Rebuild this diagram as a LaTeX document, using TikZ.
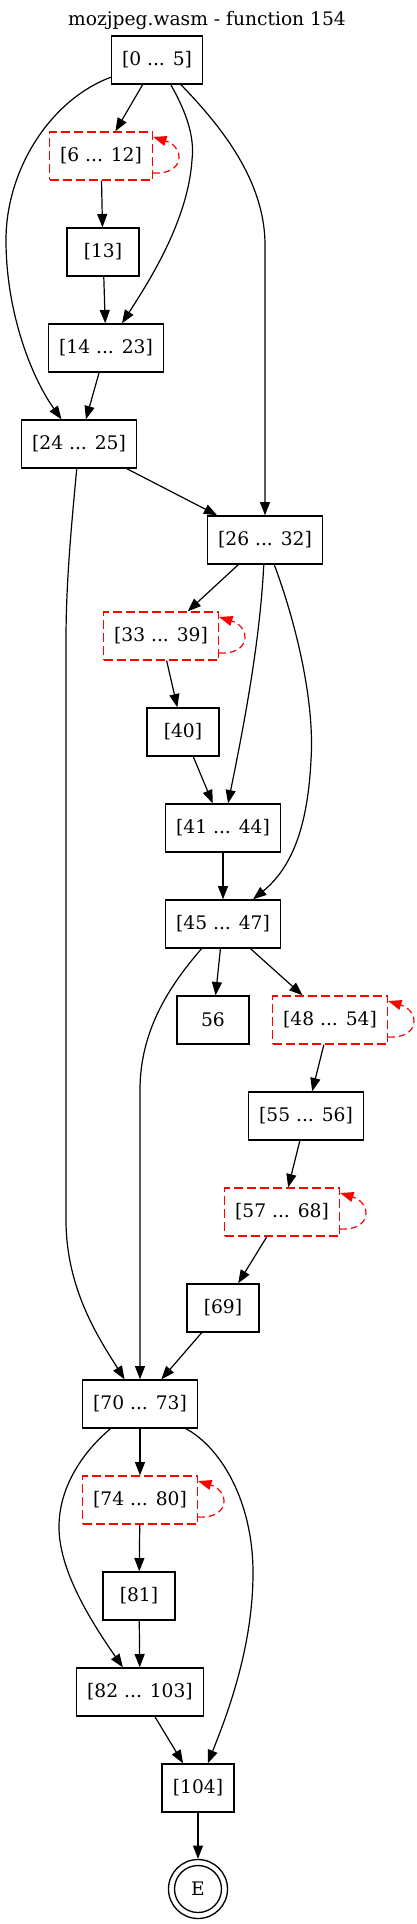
\documentclass[tikz,border=0pt]{standalone}
\usepackage{fontspec}
\setmainfont{DejaVu Serif}
\usetikzlibrary{arrows.meta,calc}
\begin{document}
\begin{tikzpicture}[x=0.75pt,y=-0.75pt,
  blk/.style={draw, line width=1pt, minimum height=36pt, inner sep=0pt, font=\fontsize{14pt}{16pt}\selectfont},
  lp/.style={draw=red, dash pattern=on 6.75pt off 3pt},
  wS/.style={minimum width=54pt},
  wM/.style={minimum width=86.25pt},
  wL/.style={minimum width=95.25pt},
  wA/.style={minimum width=68.25pt},
  wB/.style={minimum width=77.25pt},
  edge/.style={-{Triangle[length=10pt,width=7.5pt]}, line width=0.9pt},
  selfloop/.style={edge, red, dash pattern=on 5pt off 3pt},
  ttl/.style={font=\fontsize{14pt}{16pt}\selectfont, inner sep=0pt}]
\useasboundingbox (0,0) rectangle (417,1924);
\node[ttl] (title) at (207,20) {mozjpeg.wasm - function 154};
\node[blk,wA] (n0) at (157,60) {[0 ... 5]};
\node[blk,wB,lp] (n6) at (101,156) {[6 ... 12]};
\node[blk,wS] (n13) at (103,252) {[13]};
\node[blk,wM] (n14) at (106,348) {[14 ... 23]};
\node[blk,wM] (n24) at (79,444) {[24 ... 25]};
\node[blk,wM] (n26) at (265,540) {[26 ... 32]};
\node[blk,wM,lp] (n33) at (161,636) {[33 ... 39]};
\node[blk,wS] (n40) at (183,732) {[40]};
\node[blk,wM] (n41) at (223,828) {[41 ... 44]};
\node[blk,wM] (n45) at (223,924) {[45 ... 47]};
\node[blk,wS] (n56) at (213,1020) {56};
\node[blk,wM,lp] (n48) at (330,1020) {[48 ... 54]};
\node[blk,wM] (n55) at (306,1116) {[55 ... 56]};
\node[blk,wM,lp] (n57) at (282,1212) {[57 ... 68]};
\node[blk,wS] (n69) at (223,1308) {[69]};
\node[blk,wM] (n70) at (140,1404) {[70 ... 73]};
\node[blk,wM,lp] (n74) at (140,1500) {[74 ... 80]};
\node[blk,wS] (n81) at (139,1596) {[81]};
\node[blk,wL] (n82) at (140,1692) {[82 ... 103]};
\node[blk,wS] (n104) at (198,1788) {[104]};
\node[draw, circle, line width=1pt, minimum size=35.25pt, inner sep=0pt, font=\fontsize{14pt}{16pt}\selectfont] (E) at (198,1889) {E};
\node[draw, circle, line width=1pt, minimum size=44.25pt, inner sep=0pt] (Eo) at (198,1889) {};

% edges
\draw[edge] (n0) -- (n6);
\draw[edge] (n0) .. controls (50,100) and (6,170) .. (6,240) .. controls (6,310) and (30,375) .. (n24);
\draw[edge] (n0) .. controls (185,110) and (195,135) .. (192,160) .. controls (188,220) and (150,280) .. (n14);
\draw[edge] (n0) .. controls (220,125) and (265,180) .. (265,245) -- (n26);
\draw[edge] (n6) -- (n13);
\draw[edge] (n13) -- (n14);
\draw[edge] (n14) -- (n24);
\draw[edge] (n24) -- (n26);
\draw[edge] (n24) .. controls (72,520) and (66,580) .. (66,640) -- (66,1220) .. controls (66,1290) and (100,1340) .. (n70);
\draw[edge] (n26) -- (n33);
\draw[edge] (n26) .. controls (260,640) and (245,720) .. (n41);
\draw[edge] (n26) .. controls (295,620) and (315,700) .. (311,760) .. controls (308,820) and (295,865) .. (n45);
\draw[edge] (n33) -- (n40);
\draw[edge] (n40) -- (n41);
\draw[edge] (n41) -- (n45);
\draw[edge] (n45) -- (n56);
\draw[edge] (n45) -- (n48);
\draw[edge] (n45) .. controls (170,985) and (140,1030) .. (140,1090) -- (n70);
\draw[edge] (n48) -- (n55);
\draw[edge] (n55) -- (n57);
\draw[edge] (n57) -- (n69);
\draw[edge] (n69) -- (n70);
\draw[edge] (n70) -- (n74);
\draw[edge] (n70) .. controls (85,1450) and (59,1485) .. (59,1527) .. controls (59,1570) and (90,1620) .. (n82);
\draw[edge] (n70) .. controls (220,1447) and (253,1500) .. (253,1573) .. controls (253,1650) and (225,1720) .. (n104);
\draw[edge] (n74) -- (n81);
\draw[edge] (n81) -- (n82);
\draw[edge] (n82) -- (n104);
\draw[edge] (n104) -- (Eo);

% self loops
\foreach \n in {n6,n33,n48,n57,n74}{
  \draw[selfloop] ($(\n.east)+(0,17)$) .. controls +(32,2) and +(32,10) .. ($(\n.east)+(0,-19)$);
}
\end{tikzpicture}
\end{document}
